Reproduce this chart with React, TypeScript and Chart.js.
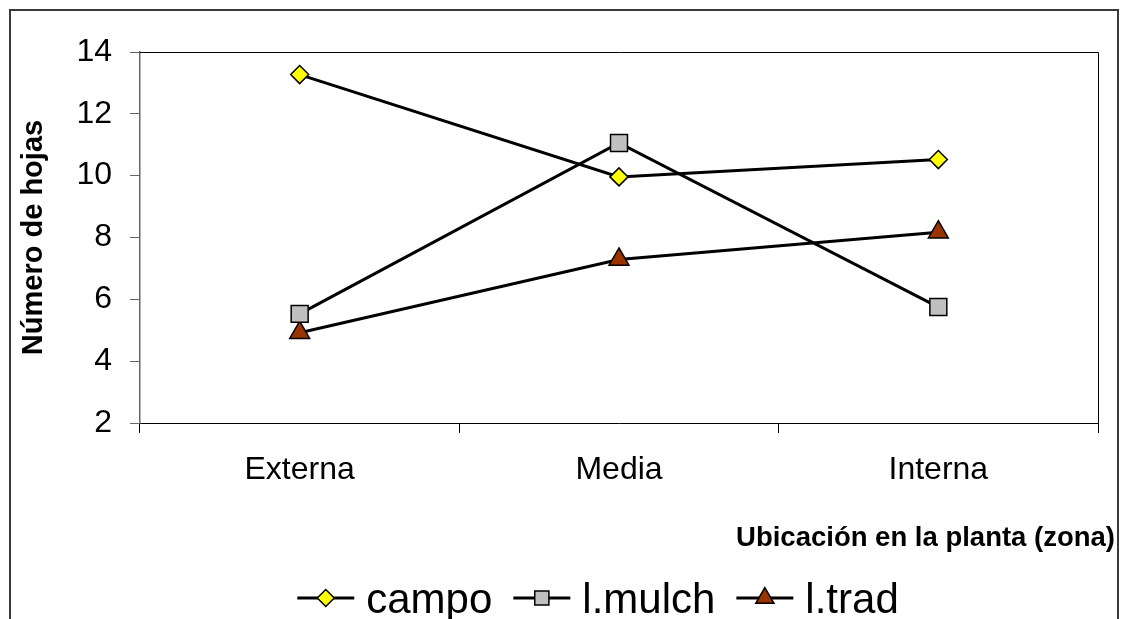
import React, { useEffect, useRef } from "react";
import { Chart, registerables } from "chart.js";

Chart.register(...registerables);

const zonas = ["Externa", "Media", "Interna"];
const campo = [13.27, 9.96, 10.52];
const lMulch = [5.53, 11.06, 5.75];
const lTrad = [4.92, 7.29, 8.17];
const yTicks = [2, 4, 6, 8, 10, 12, 14];

const FONT = '"Liberation Sans", Arial, sans-serif';

type Marker = { style: string; fill: string; label: string; legendR: number };

const markers: Marker[] = [
  { style: "rectRot", fill: "#FFFF00", label: "campo", legendR: 8.5 },
  { style: "rect", fill: "#C0C0C0", label: "l.mulch", legendR: 10 },
  { style: "triangle", fill: "#993300", label: "l.trad", legendR: 10.5 },
];

function drawMarker(ctx: CanvasRenderingContext2D, style: string, x: number, y: number, r: number, fill: string) {
  ctx.save();
  ctx.beginPath();
  if (style === "rectRot") {
    ctx.moveTo(x - r, y);
    ctx.lineTo(x, y - r);
    ctx.lineTo(x + r, y);
    ctx.lineTo(x, y + r);
    ctx.closePath();
  } else if (style === "rect") {
    const s = Math.SQRT1_2 * r;
    ctx.rect(x - s, y - s, 2 * s, 2 * s);
  } else {
    const h = (Math.sqrt(3) / 2) * r;
    ctx.moveTo(x, y - r);
    ctx.lineTo(x + h, y + r / 2);
    ctx.lineTo(x - h, y + r / 2);
    ctx.closePath();
  }
  ctx.fillStyle = fill;
  ctx.fill();
  ctx.lineWidth = 1.5;
  ctx.strokeStyle = "#000";
  ctx.stroke();
  ctx.restore();
}

const decorations = {
  id: "decorations",
  beforeDatasetsDraw(chart: any) {
    const { ctx, chartArea } = chart;
    ctx.save();
    ctx.strokeStyle = "#000";
    ctx.lineWidth = 1;
    ctx.beginPath();
    ctx.moveTo(chartArea.left, Math.round(chartArea.top) + 0.5);
    ctx.lineTo(Math.round(chartArea.right) + 0.5, Math.round(chartArea.top) + 0.5);
    ctx.lineTo(Math.round(chartArea.right) + 0.5, chartArea.bottom);
    ctx.stroke();
    ctx.restore();
  },
  afterDraw(chart: any) {
    const { ctx } = chart;
    ctx.save();
    // outer frame
    ctx.strokeStyle = "#3a3a3a";
    ctx.lineWidth = 2;
    ctx.strokeRect(10, 10, 1108, 700);

    // x axis title
    ctx.fillStyle = "#000";
    ctx.font = `bold 27.5px ${FONT}`;
    ctx.textAlign = "right";
    ctx.textBaseline = "alphabetic";
    ctx.fillText("Ubicación en la planta (zona)", 1115, 546);

    // legend
    const sample = 57;
    const gapText = 12;
    const gapItem = 21;
    ctx.font = `42px ${FONT}`;
    const widths = markers.map((m) => ctx.measureText(m.label).width);
    const total = widths.reduce((a, w) => a + sample + gapText + w, 0) + gapItem * (markers.length - 1);
    let x = 598 - total / 2;
    const ly = 598;
    markers.forEach((m, i) => {
      ctx.strokeStyle = "#000";
      ctx.lineWidth = 3;
      ctx.beginPath();
      ctx.moveTo(x, ly);
      ctx.lineTo(x + sample, ly);
      ctx.stroke();
      drawMarker(ctx, m.style, x + sample / 2, ly, m.legendR, m.fill);
      ctx.fillStyle = "#000";
      ctx.textAlign = "left";
      ctx.textBaseline = "alphabetic";
      ctx.fillText(m.label, x + sample + gapText, 613);
      x += sample + gapText + widths[i] + gapItem;
    });
    ctx.restore();
  },
};

export default function App() {
  const ref = useRef<HTMLCanvasElement | null>(null);

  useEffect(() => {
    if (!ref.current) return;
    const series = [campo, lMulch, lTrad];
    const radii = [9, 12, 11.5];
    const chart = new Chart(ref.current, {
      type: "line",
      data: {
        labels: zonas,
        datasets: series.map((d, i) => ({
          label: markers[i].label,
          data: d,
          borderColor: "#000",
          borderWidth: 3,
          tension: 0,
          pointStyle: markers[i].style as any,
          pointRadius: radii[i],
          pointHoverRadius: radii[i],
          pointBackgroundColor: markers[i].fill,
          pointBorderColor: "#000",
          pointBorderWidth: 1.5,
        })),
      },
      options: {
        animation: false,
        responsive: false,
        devicePixelRatio: 1,
        layout: { padding: { left: 0, top: 52, right: 28, bottom: 0 } },
        plugins: {
          legend: { display: false },
          tooltip: { enabled: false },
        },
        scales: {
          x: {
            type: "category",
            offset: true,
            grid: { offset: true, drawOnChartArea: false, drawTicks: true, tickLength: 10, color: "#000" },
            border: { color: "#000", width: 1 },
            ticks: { color: "#000", font: { family: FONT, size: 32 }, padding: 18, maxRotation: 0 },
            afterFit: (s: any) => {
              s.height = 196;
            },
          },
          y: {
            min: 2,
            max: 14,
            afterBuildTicks: (s: any) => {
              s.ticks = yTicks.map((v) => ({ value: v }));
            },
            grid: { drawOnChartArea: false, drawTicks: true, tickLength: 10, color: "#666" },
            border: { color: "#666", width: 1.5 },
            ticks: { color: "#000", font: { family: FONT, size: 32 }, padding: 18 },
            title: {
              display: true,
              text: "Número de hojas",
              color: "#000",
              font: { family: FONT, size: 29, weight: "bold" },
              padding: { top: 17, bottom: 0 },
            },
            afterFit: (s: any) => {
              s.width = 140;
            },
          },
        },
      },
      plugins: [decorations],
    });
    return () => chart.destroy();
  }, []);

  return (
    <div style={{ position: "fixed", left: 0, top: 0, width: 1126, height: 619, background: "#fff" }}>
      <canvas ref={ref} width={1126} height={619} style={{ display: "block" }} />
    </div>
  );
}
